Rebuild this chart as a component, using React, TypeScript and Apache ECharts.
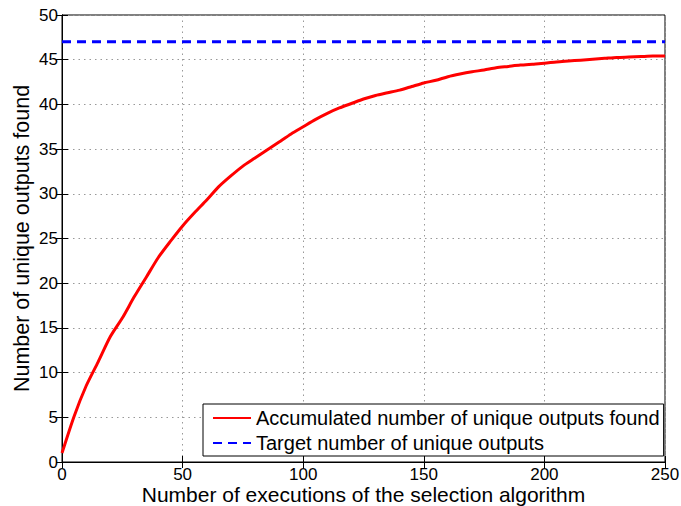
import React, { useEffect, useRef } from "react";
import * as echarts from "echarts";

const executions = [
  0, 5, 10, 15, 20, 25, 30, 35, 40, 45, 50, 55, 60, 65, 70, 75, 80, 85, 90, 95, 100,
  105, 110, 115, 120, 125, 130, 135, 140, 145, 150, 155, 160, 165, 170, 175, 180, 185,
  190, 195, 200, 205, 210, 215, 220, 225, 230, 235, 240, 245, 250,
];
const uniqueFound = [
  1.0, 5.1, 8.5, 11.2, 14.0, 16.1, 18.5, 20.7, 22.9, 24.7, 26.4, 27.9, 29.3, 30.8, 32.0,
  33.1, 34.0, 34.9, 35.8, 36.7, 37.5, 38.3, 39.0, 39.6, 40.1, 40.6, 41.0, 41.3, 41.6,
  42.0, 42.4, 42.7, 43.1, 43.4, 43.65, 43.85, 44.1, 44.25, 44.4, 44.5, 44.6, 44.75,
  44.85, 44.95, 45.05, 45.15, 45.25, 45.3, 45.35, 45.4, 45.4,
];
const targetX = [0, 250];
const targetY = [47, 47];
const seriesNames = [
  "Accumulated number of unique outputs found",
  "Target number of unique outputs",
];
const xTitle = "Number of executions of the selection algorithm";
const yTitle = "Number of unique outputs found";

const FONT = "'Liberation Sans', Arial, Helvetica, sans-serif";

export default function App() {
  const ref = useRef<HTMLDivElement>(null);
  useEffect(() => {
    if (!ref.current) return;
    const chart = echarts.init(ref.current, null, { renderer: "svg" });
    const tick = { show: true, inside: true, length: 6, lineStyle: { color: "#000", width: 1 } };
    const axisLine = { show: true, lineStyle: { color: "#000", width: 1 } };
    const split = { show: true, lineStyle: { color: "#999", type: [1.5, 4] as any, width: 1 } };
    chart.setOption({
      animation: false,
      backgroundColor: "#fff",
      textStyle: { fontFamily: FONT },
      grid: {
        left: 62,
        right: 16,
        top: 15,
        bottom: 44,
        containLabel: false,
        outerBoundsMode: "none",
        show: true,
        borderColor: "#000",
        borderWidth: 1,
        backgroundColor: "#fff",
      },
      legend: {
        left: 203,
        top: 404,
        orient: "vertical",
        backgroundColor: "#fff",
        borderColor: "#000",
        borderWidth: 1,
        borderRadius: 0,
        padding: [3, 4, 2, 9],
        itemGap: 3,
        itemWidth: 38,
        itemHeight: 14,
        itemStyle: { opacity: 0 },
        textStyle: { fontSize: 20, color: "#000", fontFamily: FONT, lineHeight: 22 },
        data: seriesNames,
      },
      xAxis: [
        {
          type: "value",
          min: 0,
          max: 250,
          interval: 50,
          position: "bottom",
          axisLine,
          axisTick: tick,
          splitLine: split,
          axisLabel: { color: "#000", fontSize: 17, lineHeight: 17, fontFamily: FONT, margin: 4 },
          name: xTitle,
          nameLocation: "middle",
          nameGap: 22,
          nameMoveOverlap: false,
          nameTextStyle: { color: "#000", fontSize: 21, fontFamily: FONT, lineHeight: 21 },
        },
        {
          type: "value",
          min: 0,
          max: 250,
          interval: 50,
          position: "top",
          axisLine,
          axisTick: tick,
          splitLine: { show: false },
          axisLabel: { show: false },
        },
      ],
      yAxis: [
        {
          type: "value",
          min: 0,
          max: 50,
          interval: 5,
          position: "left",
          axisLine,
          axisTick: tick,
          splitLine: split,
          axisLabel: { color: "#000", fontSize: 17, fontFamily: FONT, margin: 4 },
          name: yTitle,
          nameLocation: "middle",
          nameGap: 29,
          nameMoveOverlap: false,
          nameTextStyle: { color: "#000", fontSize: 21.5, fontFamily: FONT },
        },
        {
          type: "value",
          min: 0,
          max: 50,
          interval: 5,
          position: "right",
          axisLine,
          axisTick: tick,
          splitLine: { show: false },
          axisLabel: { show: false },
        },
      ],
      series: [
        {
          name: seriesNames[0],
          type: "line",
          xAxisIndex: 0,
          yAxisIndex: 0,
          symbol: "none",
          smooth: 0.25,
          lineStyle: { color: "#ff0000", width: 3 },
          itemStyle: { color: "#ff0000" },
          data: executions.map((x, i) => [x, uniqueFound[i]]),
        },
        {
          name: seriesNames[1],
          type: "line",
          xAxisIndex: 0,
          yAxisIndex: 0,
          symbol: "none",
          lineStyle: { color: "#0000ff", width: 3, type: [9, 6] },
          itemStyle: { color: "#0000ff" },
          data: targetX.map((x, i) => [x, targetY[i]]),
        },
      ],
    });
    return () => chart.dispose();
  }, []);
  return (
    <div
      ref={ref}
      style={{ position: "absolute", left: 0, top: 0, width: 681, height: 506 }}
    />
  );
}
